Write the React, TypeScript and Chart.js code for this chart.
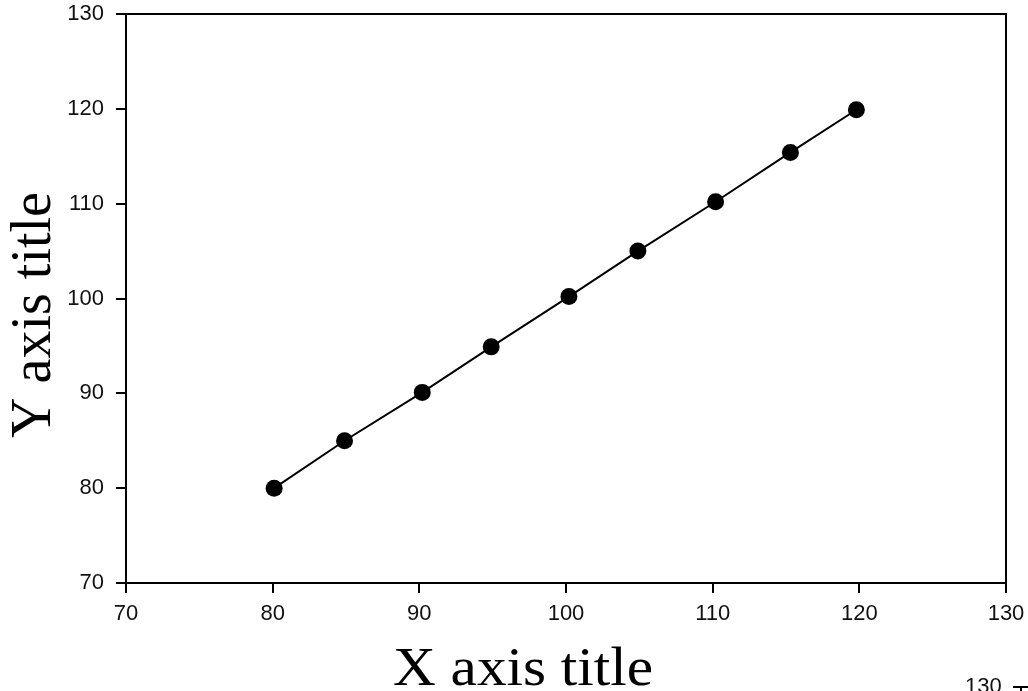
import React, { useEffect, useRef } from "react";
import { Chart, registerables } from "chart.js";

Chart.register(...registerables);

const xValues = [80.1, 84.9, 90.2, 94.9, 100.2, 104.9, 110.2, 115.3, 119.8];
const yValues = [80.0, 85.0, 90.1, 94.9, 100.2, 105.0, 110.2, 115.4, 119.9];
const xTitle = "X axis title";
const yTitle = "Y axis title";
const fragmentLabel = "130";
const axisMin = 70;
const axisMax = 130;
const tickStep = 10;

const SERIF = "'Liberation Serif', 'Times New Roman', serif";
const SANS = "'Liberation Sans', Arial, sans-serif";

const framePlugin = {
  id: "frame",
  afterDraw(chart: any) {
    const { ctx, chartArea } = chart;
    ctx.save();
    ctx.strokeStyle = "#000";
    ctx.lineWidth = 2;
    ctx.beginPath();
    ctx.moveTo(chartArea.left, chartArea.top);
    ctx.lineTo(chartArea.right, chartArea.top);
    ctx.lineTo(chartArea.right, chartArea.bottom);
    ctx.stroke();

    // axis titles
    ctx.fillStyle = "#000";
    ctx.textBaseline = "alphabetic";
    ctx.textAlign = "left";
    // X title
    ctx.font = `54px ${SERIF}`;
    let w = ctx.measureText(xTitle).width;
    ctx.save();
    ctx.translate(393, 685);
    ctx.scale(260 / w, 1);
    ctx.fillText(xTitle, 0, 0);
    ctx.restore();
    // Y title
    ctx.font = `57px ${SERIF}`;
    w = ctx.measureText(yTitle).width;
    ctx.save();
    ctx.translate(50, 438);
    ctx.rotate(-Math.PI / 2);
    ctx.scale(246 / w, 1);
    ctx.fillText(yTitle, 0, 0);
    ctx.restore();

    // cropped fragment of a neighbouring axis at the bottom-right corner
    ctx.fillStyle = "#111";
    ctx.font = `22px ${SANS}`;
    ctx.fillText(fragmentLabel, 965, 693);
    ctx.lineWidth = 2;
    ctx.beginPath();
    ctx.moveTo(1013, 687);
    ctx.lineTo(1028, 687);
    ctx.moveTo(1021, 687);
    ctx.lineTo(1021, 691);
    ctx.stroke();
    ctx.restore();
  },
};

export default function App() {
  const ref = useRef<HTMLCanvasElement>(null);
  useEffect(() => {
    document.body.style.margin = "0";
    const data = xValues.map((x, i) => ({ x, y: yValues[i] }));
    const tickFont = { family: SANS, size: 22 };
    const chart = new Chart(ref.current!, {
      type: "scatter",
      data: {
        datasets: [
          {
            data,
            showLine: true,
            borderColor: "#000",
            borderWidth: 2,
            backgroundColor: "#000",
            pointBackgroundColor: "#000",
            pointBorderColor: "#000",
            pointRadius: 8.5,
            pointBorderWidth: 0,
          },
        ],
      },
      options: {
        animation: false,
        responsive: false,
        maintainAspectRatio: false,
        layout: { padding: { left: 0, right: 22, top: 14, bottom: 0 } },
        plugins: { legend: { display: false }, tooltip: { enabled: false } },
        scales: {
          x: {
            type: "linear",
            min: axisMin,
            max: axisMax,
            afterFit: (s: any) => {
              s.height = 108;
              s.paddingLeft = 0;
              s.paddingRight = 0;
            },
            ticks: { stepSize: tickStep, color: "#111", font: tickFont, padding: 8, maxRotation: 0 },
            grid: { drawOnChartArea: false, drawTicks: true, tickLength: 10, color: "#000", lineWidth: 2 },
            border: { color: "#000", width: 2 },
          },
          y: {
            type: "linear",
            min: axisMin,
            max: axisMax,
            afterFit: (s: any) => {
              s.width = 126;
              s.paddingTop = 0;
              s.paddingBottom = 0;
            },
            ticks: { stepSize: tickStep, color: "#111", font: tickFont, padding: 12 },
            grid: { drawOnChartArea: false, drawTicks: true, tickLength: 10, color: "#000", lineWidth: 2 },
            border: { color: "#000", width: 2 },
          },
        },
      },
      plugins: [framePlugin],
    });
    return () => chart.destroy();
  }, []);
  return (
    <div style={{ position: "absolute", left: 0, top: 0, width: 1028, height: 691, background: "#fff" }}>
      <canvas ref={ref} width={1028} height={691} style={{ width: 1028, height: 691, display: "block" }} />
    </div>
  );
}
